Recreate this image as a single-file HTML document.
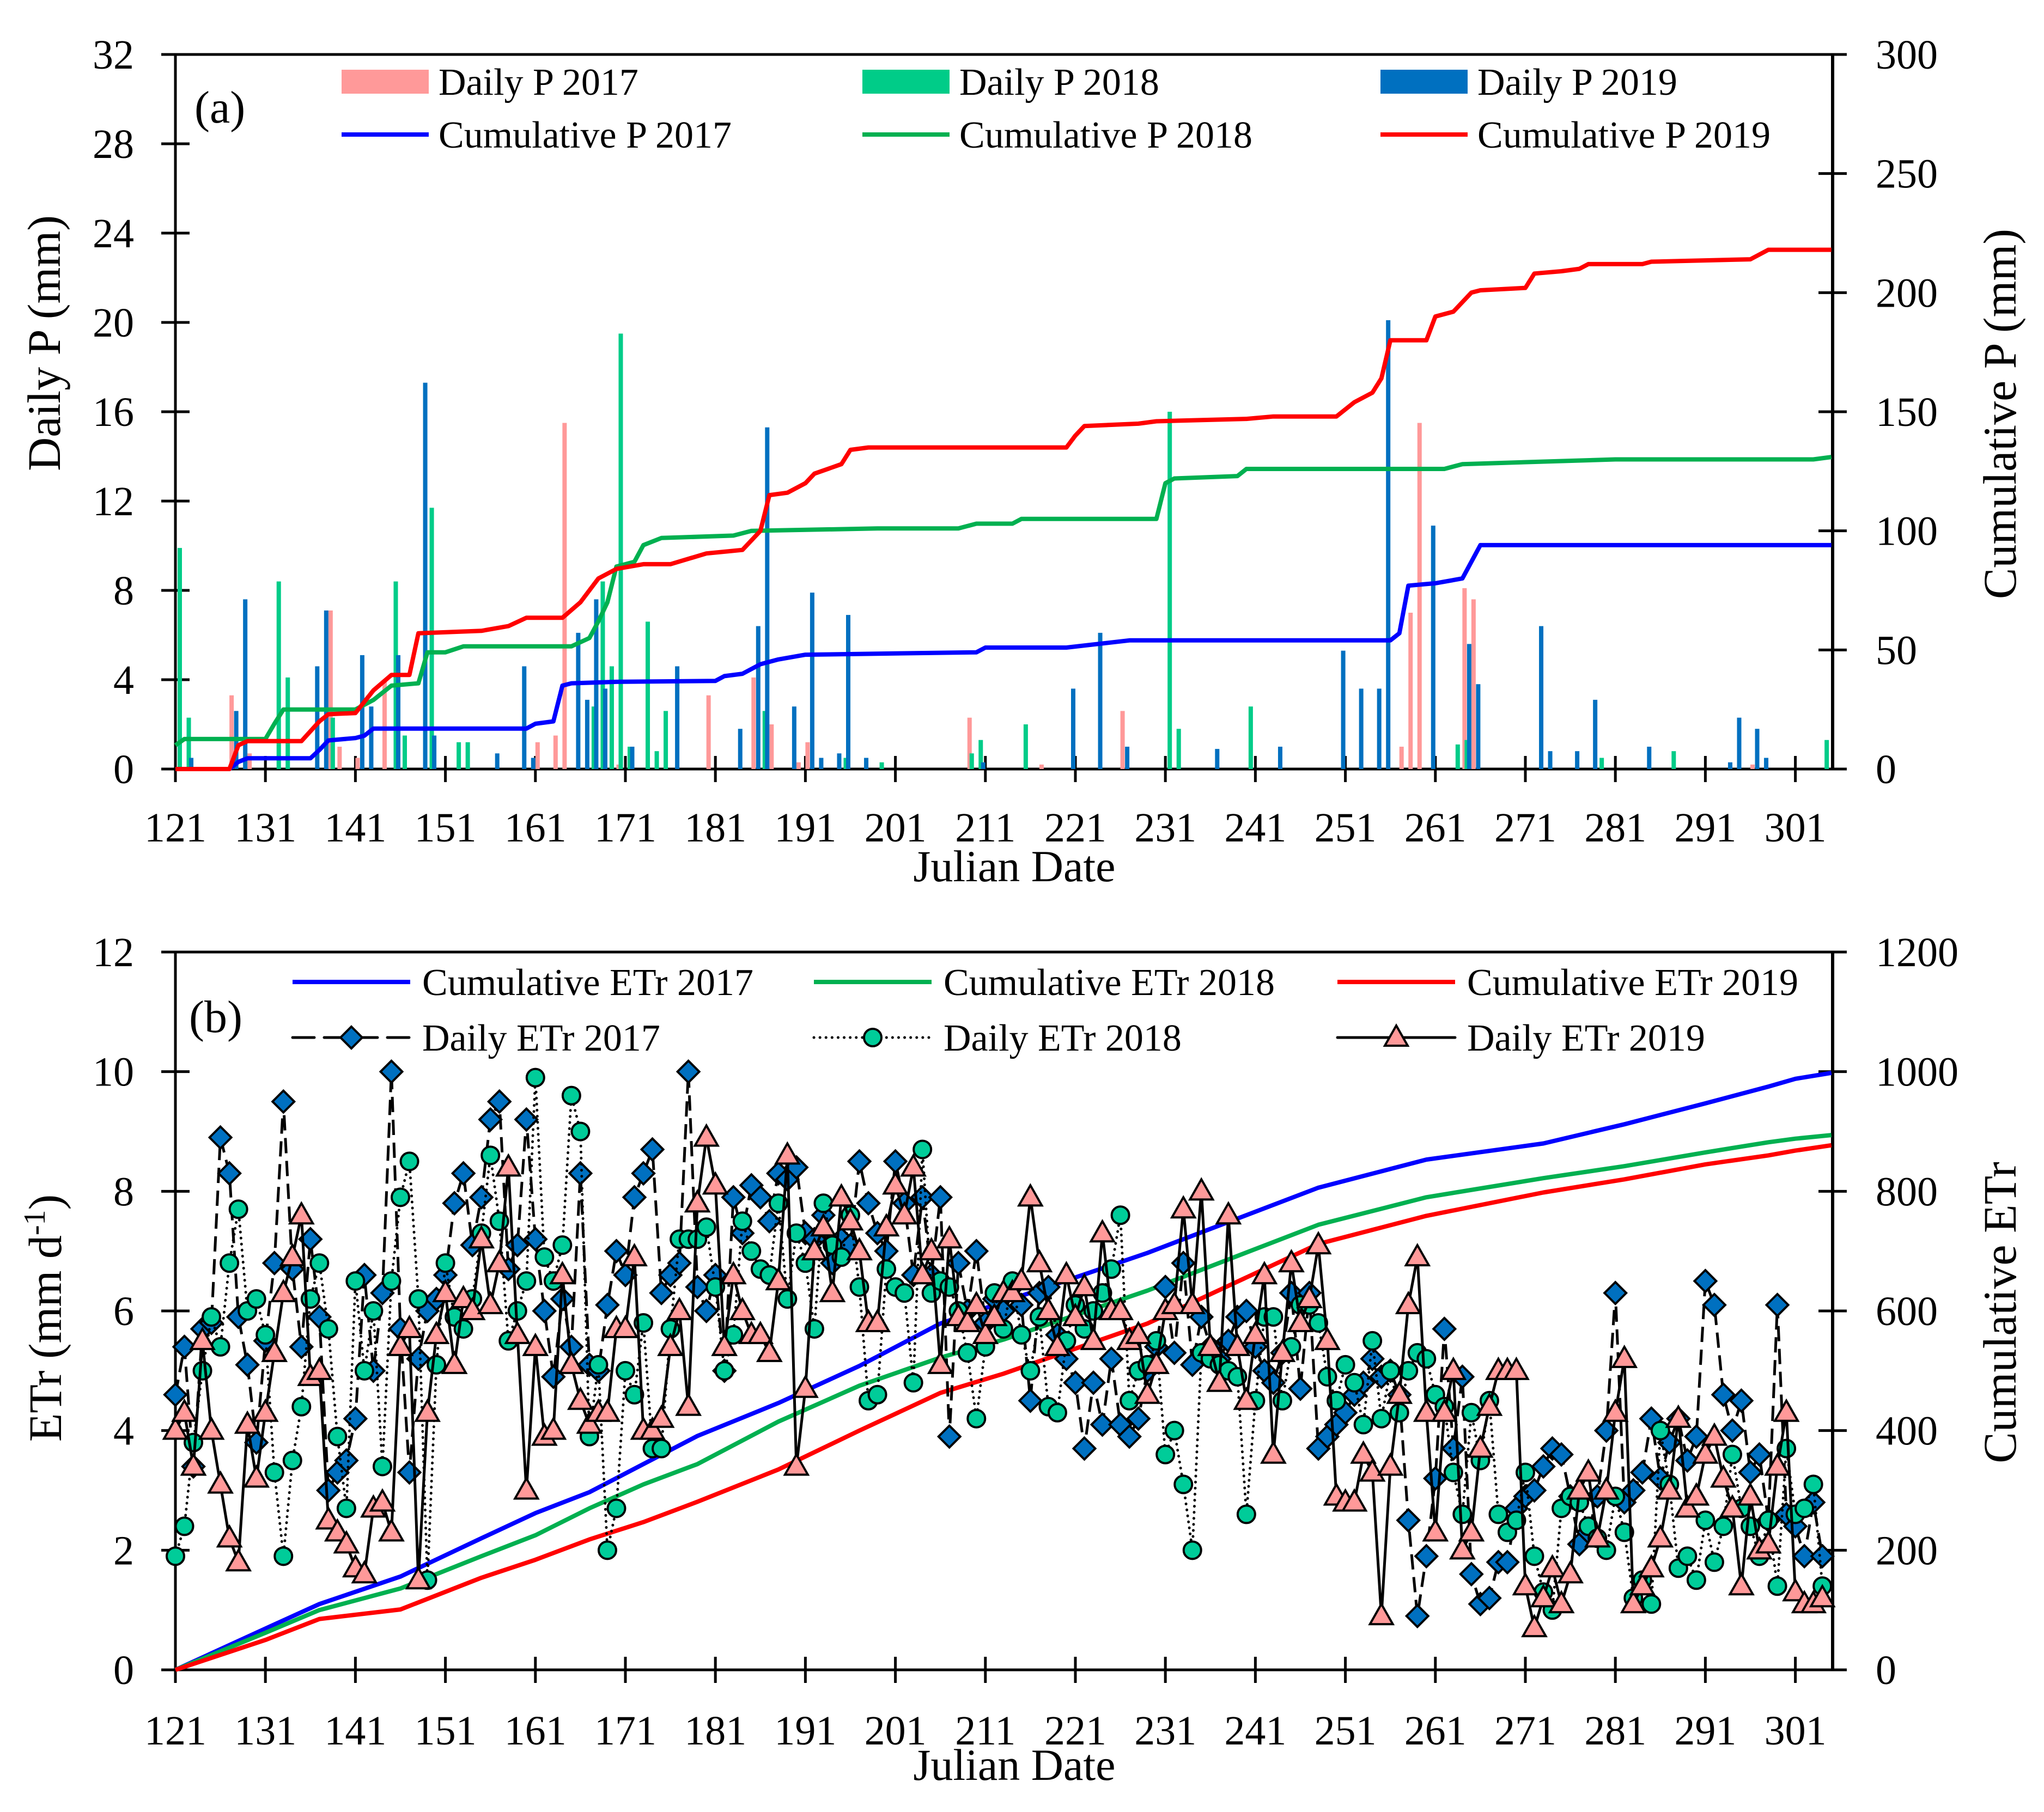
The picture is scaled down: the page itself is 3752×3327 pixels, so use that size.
<!DOCTYPE html>
<html><head><meta charset="utf-8"><style>
html,body{margin:0;padding:0;background:#fff;}
svg{display:block;font-family:"Liberation Serif",serif;}
</style></head><body>
<svg id="chart" width="3752" height="3327" viewBox="0 0 3752 3327" xmlns="http://www.w3.org/2000/svg">
<g id="panelA"></g>
<g id="panelB"></g>
</svg>
<script>
// ---------- DATA ----------
const xTicks = [121,131,141,151,161,171,181,191,201,211,221,231,241,251,261,271,281,291,301];
const dailyPTicks = [0,4,8,12,16,20,24,28,32];
const cumPTicks = [0,50,100,150,200,250,300];
const etrTicks = [0,2,4,6,8,10,12];
const cumEtrTicks = [0,200,400,600,800,1000,1200];

const p2017Days = [127,129,138,139,141,144,161,163,164,170,180,185,187,190,191,209,217,226,257,258,259,264,265,296];
const p2017Vals = [3.3,0.7,7.1,1.0,0.5,4.0,1.2,1.5,15.5,0.2,3.3,4.1,2.0,0.3,1.2,2.3,0.2,2.6,1.0,7.0,15.5,8.1,7.6,0.2];
const p2018Days = [121,122,132,133,138,145,146,149,152,153,167,168,169,170,171,173,174,175,186,195,199,209,210,215,231,232,240,263,264,279,287,304];
const p2018Vals = [9.9,2.3,8.4,4.1,2.3,8.4,1.5,11.7,1.2,1.2,2.8,8.4,4.6,19.5,1.0,6.6,0.8,2.6,2.6,0.5,0.3,0.7,1.3,2.0,16.0,1.8,2.8,1.1,1.3,0.5,0.8,1.3];
const p2019Days = [123,128,129,137,138,142,143,146,149,150,157,160,161,166,167,168,169,172,177,184,186,187,190,192,193,195,196,198,211,221,224,227,237,244,251,253,255,256,261,265,266,273,274,277,279,285,294,295,297,298];
const p2019Vals = [0.5,2.6,7.6,4.6,7.1,5.1,2.8,5.1,17.3,1.5,0.7,4.6,0.5,6.1,3.1,7.6,3.6,1.0,4.6,1.8,6.4,15.3,2.8,7.9,0.5,0.7,6.9,0.5,0.3,3.6,6.1,1.0,0.9,1.0,5.3,3.6,3.6,20.1,10.9,5.6,3.8,6.4,0.8,0.8,3.1,1.0,0.3,2.3,1.8,0.5];

const cp2017Days = [121,127,128,129,136,137,138,141,142,143,160,161,163,164,165,170,181,182,184,186,188,191,210,211,220,227,256,257,258,261,264,266,305];
const cp2017Vals = [0,0,3,4.5,4.5,8,12,13,14,17,17,19,20,35,36,36.6,37,39,40,44,46,48,49,51,51,54,54,57,77,78,80,94,94];
const cp2018Days = [121,122,131,132,133,141,143,145,148,149,151,153,165,167,168,169,170,172,173,175,183,185,199,208,210,214,215,230,231,232,239,240,262,264,281,303,305];
const cp2018Vals = [10,12.6,12.6,19,25,25,29,35,36,49,49,51.5,51.5,55,62,70,85,87,94,97,98,100,101,101,103,103,105,105,120,122,123,126,126,128,130,130,131];
const cp2019Days = [121,127,128,129,135,137,138,141,143,145,147,148,155,158,160,164,166,168,170,173,176,180,184,186,187,189,191,192,195,196,198,220,221,222,228,230,240,243,250,252,254,255,256,260,261,263,265,266,271,272,275,277,278,284,285,296,298,305];
const cp2019Vals = [0,0,10,11.7,11.7,20,23,23.5,33,39.5,39.5,57,58,60,63.5,63.5,70,80,84,86,86,90.5,92,100,115,116,120,124,128,134,135,135,140,144,145,146,147,148,148,154,158,164,180,180,190,192,200,201,202,208,209,210,212,212,213,214,218,218];

const etrStartDay = 121;
const etr2017 = [4.6,5.4,3.4,5.7,5.8,8.9,8.3,5.9,5.1,3.8, 5.5,6.8,9.5,6.7,5.4,7.2,5.9,3.0,3.3,3.5, 4.2,6.6,5.0,6.3,10.0,5.7,3.3,5.2,6.0,6.2, 6.6,7.8,8.3,7.1,7.9,9.2,9.5,6.7,7.1,9.2, 7.2,6.0,4.9,6.2,5.4,8.3,5.1,5.0,6.1,7.0, 6.6,7.9,8.3,8.7,6.3,6.6,6.8,10.0,6.4,6.0, 6.6,5.0,7.9,7.3,8.1,7.9,7.5,8.3,8.2,8.4, 7.3,7.2,7.6,6.8,7.2,7.1,8.5,7.8,7.3,7.0, 8.5,7.8,6.6,7.9,6.6,7.9,3.9,6.8,6.0,7.0, 5.8,6.2,6.0,6.4,6.1,4.5,6.3,6.4,5.6,5.2, 4.8,3.7,4.8,4.1,5.2,4.1,3.9,4.2,5.0,5.4, 6.4,5.3,6.8,5.1,5.9,5.4,5.2,5.5,5.9,6.0, 5.4,5.0,4.8,5.3,6.3,4.7,6.3,3.7,3.9,4.1, 4.3,4.6,4.8,5.2,4.9,5.0,4.6,2.5,0.9,1.9, 3.2,5.7,3.7,4.9,1.6,1.1,1.2,1.8,1.8,2.7, 2.9,3.0,3.4,3.7,3.6,2.9,2.1,2.3,2.9,4.0, 6.3,2.8,3.0,3.3,4.2,3.2,3.8,4.2,3.5,3.9, 6.5,6.1,4.6,4.0,4.5,3.3,3.6,2.5,6.1,2.6, 2.4,1.9,2.8,1.9];
const etr2018 = [1.9,2.4,3.8,5.0,5.9,5.4,6.8,7.7,6.0,6.2, 5.6,3.3,1.9,3.5,4.4,6.2,6.8,5.7,3.9,2.7, 6.5,5.0,6.0,3.4,6.5,7.9,8.5,6.2,1.5,5.1, 6.8,5.9,5.7,6.2,7.3,8.6,7.5,5.5,6.0,6.5, 9.9,6.9,6.5,7.1,9.6,9.0,3.9,5.1,2.0,2.7, 5.0,4.6,5.8,3.7,3.7,5.7,7.2,7.2,7.2,7.4, 6.4,5.0,5.6,7.5,7.0,6.7,6.6,7.8,6.2,7.3, 6.8,5.7,7.8,7.1,6.9,7.6,6.4,4.5,4.6,6.7, 6.4,6.3,4.8,8.7,6.3,6.5,6.4,6.0,5.3,4.2, 5.4,6.3,5.7,6.5,5.6,5.0,5.9,4.4,4.3,5.5, 6.1,5.7,6.0,6.3,6.7,7.6,4.5,5.0,5.1,5.5, 3.6,4.0,3.1,2.0,5.3,5.2,5.1,5.0,4.9,2.6, 4.5,5.9,5.9,4.5,5.4,6.1,6.1,5.8,4.9,4.5, 5.1,4.8,4.1,5.5,4.2,5.0,4.3,5.0,5.3,5.2, 4.6,4.4,3.3,2.6,4.3,3.5,4.5,2.6,2.3,2.5, 3.3,1.9,1.3,1.0,2.7,2.9,2.8,2.4,2.2,2.0, 2.9,2.3,1.2,1.5,1.1,4.0,3.1,1.7,1.9,1.5, 2.5,1.8,2.4,3.6,2.7,2.4,1.9,2.5,1.4,3.7, 2.6,2.7,3.1,1.4];
const etr2019 = [4.0,4.3,3.4,5.5,4.0,3.1,2.2,1.8,4.1,3.2, 4.3,5.3,6.3,6.9,7.6,4.9,5.0,2.5,2.3,2.1, 1.7,1.6,2.7,2.8,2.3,5.4,5.7,1.5,4.3,5.6, 6.3,5.1,6.2,6.0,7.2,6.1,6.8,8.4,5.6,3.0, 5.4,3.9,4.0,6.6,5.1,4.5,4.1,4.3,4.3,5.7, 5.7,6.9,4.0,4.0,4.2,5.4,6.0,4.4,7.8,8.9, 8.1,5.4,6.6,6.0,5.6,5.6,5.3,6.5,8.6,3.4, 4.7,7.0,7.4,6.3,7.9,7.5,7.0,5.8,5.8,7.4, 8.1,7.6,8.4,6.6,7.0,5.1,7.2,5.9,5.8,6.1, 5.6,5.9,6.3,6.3,6.5,7.9,6.8,6.0,5.4,6.6, 5.9,6.4,5.5,7.3,6.0,6.0,5.5,5.6,4.6,5.1, 6.0,6.1,7.7,6.1,8.0,5.4,4.8,7.6,5.4,4.5, 5.6,6.6,3.6,5.3,6.8,5.8,6.2,7.1,5.5,2.9, 2.8,2.8,3.6,3.3,0.9,3.4,4.6,6.1,6.9,4.3, 2.3,4.3,5.0,2.0,2.3,3.7,4.4,5.0,5.0,5.0, 1.4,0.7,1.2,1.7,1.1,1.6,3.0,3.3,2.2,3.0, 4.3,5.2,1.1,1.4,1.7,2.2,3.0,4.2,2.7,2.9, 3.6,3.9,3.2,2.7,1.4,2.9,2.0,2.1,3.4,4.3, 1.3,1.1,1.1,1.2];

const cumEtrDays = [121,131,137,146,155,161,167,173,179,188,197,206,213,229,248,260,273,282,291,298,301,305];
const cumEtr2017 = [0,69,110,156,220,262,297,344,391,446,508,579,615,697,806,853,880,912,947,975,988,998];
const cumEtr2018 = [0,62,100,136,190,225,270,310,344,415,475,522,552,634,744,790,822,842,865,882,888,894];
const cumEtr2019 = [0,50,85,101,154,184,218,247,281,335,400,463,495,579,712,759,798,820,845,860,868,877];

// ---------- SCALES ----------
const X0 = 322, DX = 16.52, XR = 3364;
const xS = d => X0 + (d - 121) * DX;
const A = {top:100, bot:1412};
const B = {top:1748, bot:3066};
const yP = v => A.bot - v * (A.bot - A.top) / 32;
const yCP = v => A.bot - v * (A.bot - A.top) / 300;
const yE = v => B.bot - v * (B.bot - B.top) / 12;
const yCE = v => B.bot - v * (B.bot - B.top) / 1200;

const NS = 'http://www.w3.org/2000/svg';
function mk(parent, tag, attrs, text){
  const e = document.createElementNS(NS, tag);
  for (const k in attrs) e.setAttribute(k, attrs[k]);
  if (text !== undefined) e.textContent = text;
  parent.appendChild(e);
  return e;
}
const gA = document.getElementById('panelA');
const gB = document.getElementById('panelB');

function axes(g, P, leftTicks, leftScale, rightTicks, rightScale, xLabelY, titleY){
  let e;
  e = mk(g,'line',{x1:296,y1:P.top,x2:3390,y2:P.top,stroke:'#000','stroke-width':5});
   
  e = mk(g,'line',{x1:296,y1:P.bot,x2:3390,y2:P.bot,stroke:'#000','stroke-width':5});
   
  e = mk(g,'line',{x1:X0,y1:P.top,x2:X0,y2:P.bot+24,stroke:'#000','stroke-width':5});
   
  e = mk(g,'line',{x1:XR,y1:P.top,x2:XR,y2:P.bot,stroke:'#000','stroke-width':6});
   
  leftTicks.forEach(v=>{
    const y = leftScale(v);
    const t = mk(g,'line',{x1:296,y1:y,x2:348,y2:y,stroke:'#000','stroke-width':5});
     
    const l = mk(g,'text',{x:246,y:y+26,'font-size':76,'text-anchor':'end'},String(v));
     
  });
  rightTicks.forEach(v=>{
    const y = rightScale(v);
    const t = mk(g,'line',{x1:3338,y1:y,x2:3390,y2:y,stroke:'#000','stroke-width':5});
     
    const l = mk(g,'text',{x:3443,y:y+26,'font-size':76,'text-anchor':'start'},String(v));
     
  });
  xTicks.forEach(d=>{
    const x = xS(d);
    const t = mk(g,'line',{x1:x,y1:P.bot-24,x2:x,y2:P.bot+24,stroke:'#000','stroke-width':5});
     
    const l = mk(g,'text',{x:x,y:xLabelY,'font-size':76,'text-anchor':'middle'},String(d));
     
  });
  const tt = mk(g,'text',{x:1862,y:titleY,'font-size':82,'text-anchor':'middle'},'Julian Date');
   
}

// ---------- PANEL A ----------
axes(gA, A, dailyPTicks, yP, cumPTicks, yCP, 1545, 1618);
let t;
t = mk(gA,'text',{x:0,y:0,'font-size':86,'text-anchor':'middle',transform:'translate(110,630) rotate(-90)'},'Daily P (mm)');
 
t = mk(gA,'text',{x:0,y:0,'font-size':86,'text-anchor':'middle',transform:'translate(3700,760) rotate(-90)'},'Cumulative P (mm)');
 
t = mk(gA,'text',{x:357,y:225,'font-size':84},'(a)');
 

function bars(days, vals, color, off, name){
  days.forEach((d,i)=>{
    const r = mk(gA,'rect',{x:xS(d)+off-4,y:yP(vals[i]),width:8,height:A.bot-yP(vals[i]),fill:color});
    
    
  });
}
bars(p2017Days,p2017Vals,'#FF9999',4,'daily-p-2017-bar');
bars(p2018Days,p2018Vals,'#00CC88',8,'daily-p-2018-bar');
bars(p2019Days,p2019Vals,'#0070C0',-4,'daily-p-2019-bar');

function line(g, days, vals, ys, color, w, name){
  const pts = days.map((d,i)=>xS(d).toFixed(1)+','+ys(vals[i]).toFixed(1)).join(' ');
  const p = mk(g,'polyline',{points:pts,fill:'none',stroke:color,'stroke-width':w,'stroke-linejoin':'round'});
  
  
}
line(gA,cp2017Days,cp2017Vals,yCP,'#0000FF',8,'cumulative-p-2017-line');
line(gA,cp2018Days,cp2018Vals,yCP,'#00B050',8,'cumulative-p-2018-line');
line(gA,cp2019Days,cp2019Vals,yCP,'#FF0000',8,'cumulative-p-2019-line');

const legA = [
  {x:627,y:150,type:'bar',c:'#FF9999',label:'Daily P 2017'},
  {x:1583,y:150,type:'bar',c:'#00CC88',label:'Daily P 2018'},
  {x:2534,y:150,type:'bar',c:'#0070C0',label:'Daily P 2019'},
  {x:627,y:247,type:'line',c:'#0000FF',label:'Cumulative P 2017'},
  {x:1583,y:247,type:'line',c:'#00B050',label:'Cumulative P 2018'},
  {x:2534,y:247,type:'line',c:'#FF0000',label:'Cumulative P 2019'}
];
legA.forEach(L=>{
  const g = mk(gA,'g',{});
  
  
  if (L.type==='bar') mk(g,'rect',{x:L.x,y:L.y-22,width:160,height:44,fill:L.c});
  else mk(g,'line',{x1:L.x,y1:L.y,x2:L.x+160,y2:L.y,stroke:L.c,'stroke-width':8});
  mk(g,'text',{x:L.x+178,y:L.y+24,'font-size':70},L.label);
});

// ---------- PANEL B ----------
axes(gB, B, etrTicks, yE, cumEtrTicks, yCE, 3203, 3268);
t = mk(gB,'text',{x:0,y:0,'font-size':86,'text-anchor':'middle',transform:'translate(112,2420) rotate(-90)'});
 
t.appendChild(document.createTextNode('ETr (mm d'));
mk(t,'tspan',{'font-size':56,dy:-30},'-1');
mk(t,'tspan',{dy:30},')');
t = mk(gB,'text',{x:0,y:0,'font-size':86,'text-anchor':'middle',transform:'translate(3700,2410) rotate(-90)'},'Cumulative ETr');
 
t = mk(gB,'text',{x:347,y:1895,'font-size':84},'(b)');
 

line(gB,cumEtrDays,cumEtr2017,yCE,'#0000FF',8,'cumulative-etr-2017-line');
line(gB,cumEtrDays,cumEtr2018,yCE,'#00B050',8,'cumulative-etr-2018-line');
line(gB,cumEtrDays,cumEtr2019,yCE,'#FF0000',8,'cumulative-etr-2019-line');

function marker(g, type, x, y){
  if (type==='diamond') return mk(g,'polygon',{points:`${x},${y-20} ${x+20},${y} ${x},${y+20} ${x-20},${y}`,fill:'#0070C0',stroke:'#000','stroke-width':4});
  if (type==='circle') return mk(g,'circle',{cx:x,cy:y,r:16,fill:'#00CC99',stroke:'#000','stroke-width':4});
  return mk(g,'polygon',{points:`${x},${y-22} ${x+21},${y+15} ${x-21},${y+15}`,fill:'#FF9999',stroke:'#000','stroke-width':4});
}
function dailySeries(vals, dash, type, name){
  const g = mk(gB,'g',{});
  
  
  const pts = vals.map((v,i)=>xS(etrStartDay+i).toFixed(1)+','+yE(v).toFixed(1)).join(' ');
  const attrs = {points:pts,fill:'none',stroke:'#000','stroke-width':5,'stroke-linejoin':'round'};
  if (dash) attrs['stroke-dasharray']=dash;
  if (type==='circle') attrs['stroke-linecap']='round';
  const pl = mk(g,'polyline',attrs);
  
  
  vals.forEach((v,i)=>{
    const m = marker(g,type,xS(etrStartDay+i),yE(v));
    
    
  });
}
dailySeries(etr2017,'28 14','diamond','daily-etr-2017');
dailySeries(etr2018,'0.1 11','circle','daily-etr-2018');
dailySeries(etr2019,null,'triangle','daily-etr-2019');

const legB = [
  {x:537,y:1803,kind:'cum',c:'#0000FF',label:'Cumulative ETr 2017'},
  {x:1494,y:1803,kind:'cum',c:'#00B050',label:'Cumulative ETr 2018'},
  {x:2455,y:1803,kind:'cum',c:'#FF0000',label:'Cumulative ETr 2019'},
  {x:537,y:1905,kind:'diamond',dash:'40 18',label:'Daily ETr 2017'},
  {x:1494,y:1905,kind:'circle',dash:'0.1 11',label:'Daily ETr 2018'},
  {x:2455,y:1905,kind:'triangle',dash:null,label:'Daily ETr 2019'}
];
legB.forEach(L=>{
  const g = mk(gB,'g',{});
  
  
  if (L.kind==='cum') mk(g,'line',{x1:L.x,y1:L.y,x2:L.x+216,y2:L.y,stroke:L.c,'stroke-width':8});
  else {
    const a = {x1:L.x,y1:L.y,x2:L.x+216,y2:L.y,stroke:'#000','stroke-width':5,'stroke-linecap':'round'};
    if (L.dash) a['stroke-dasharray']=L.dash;
    mk(g,'line',a);
    marker(g,L.kind,L.x+108,L.y);
  }
  mk(g,'text',{x:L.x+238,y:L.y+24,'font-size':70},L.label);
});
</script>
</body></html>
